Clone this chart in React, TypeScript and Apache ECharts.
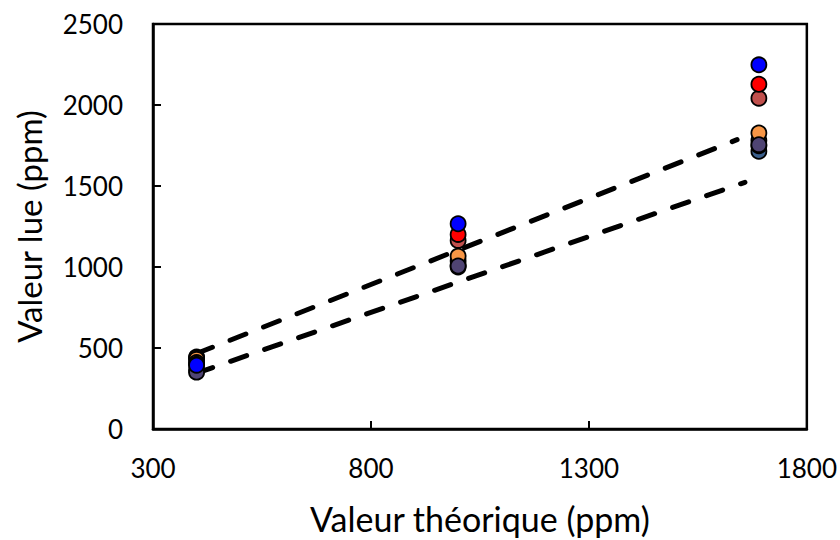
import React, { useEffect, useRef } from "react";
import * as echarts from "echarts";

const theoretical = [400, 1000, 1690];

const seriesNames = ["S1", "S2", "S3", "S4", "S5", "S6", "S7", "S8"];
const seriesColors = ["#3a3a3a", "#3b5f8c", "#6f8a3e", "#f79646", "#4f4473", "#c0504d", "#ff0000", "#0000ff"];
const seriesValues = [
  [445, 1012, 1781],
  [362, 1000, 1714],
  [440, 1037, 1748],
  [430, 1067, 1827],
  [351, 1006, 1755],
  [410, 1164, 2042],
  [400, 1201, 2128],
  [394, 1267, 2248],
];

const upperLineX = [400, 1640];
const upperLineY = [466, 1786];
const lowerLineX = [400, 1658];
const lowerLineY = [345, 1523];

const xTicks = [300, 800, 1300, 1800];
const yTicks = [0, 500, 1000, 1500, 2000, 2500];

const FONT = "Lato";

export default function App() {
  const ref = useRef<HTMLDivElement>(null);
  useEffect(() => {
    if (!ref.current) return;
    const chart = echarts.init(ref.current, null, { renderer: "svg" });
    const dashStyle = {
      color: "#000",
      width: 5,
      type: [17, 19] as any,
      cap: "round" as const,
      opacity: 1,
    };
    const lineSeries = [
      {
        type: "line",
        data: upperLineX.map((x, i) => [x, upperLineY[i]]),
        showSymbol: false,
        symbol: "none",
        lineStyle: dashStyle,
        z: 1,
      },
      {
        type: "line",
        data: lowerLineX.map((x, i) => [x, lowerLineY[i]]),
        showSymbol: false,
        symbol: "none",
        lineStyle: dashStyle,
        z: 1,
      },
    ];
    const scatterSeries = seriesNames.map((name, k) => ({
      name,
      type: "scatter",
      data: theoretical.map((x, i) => [x, seriesValues[k][i]]),
      symbol: "circle",
      symbolSize: 15,
      itemStyle: { color: seriesColors[k], borderColor: "#000", borderWidth: 1.8, opacity: 1 },
      z: 2 + k,
    }));
    const fmt = (v: number) => String(v);
    chart.setOption({
      animation: false,
      grid: { left: 153, right: 33, top: 24, bottom: 110, show: true, borderColor: "#000", borderWidth: 2.5 },
      xAxis: {
        type: "value",
        min: xTicks[0],
        max: xTicks[xTicks.length - 1],
        interval: xTicks[1] - xTicks[0],
        name: "Valeur théorique (ppm)",
        nameLocation: "middle",
        nameGap: 72,
        nameTextStyle: { fontFamily: FONT, fontSize: 34, color: "#000" },
        axisLine: { show: true, onZero: false, lineStyle: { color: "#000", width: 2.5 } },
        axisTick: { show: true, inside: true, length: 8, lineStyle: { color: "#000", width: 2 } },
        axisLabel: { fontFamily: FONT, fontSize: 26, color: "#000", margin: 26, formatter: fmt },
        splitLine: { show: false },
      },
      yAxis: {
        type: "value",
        min: yTicks[0],
        max: yTicks[yTicks.length - 1],
        interval: yTicks[1] - yTicks[0],
        name: "Valeur lue (ppm)",
        nameLocation: "middle",
        nameGap: 108,
        nameTextStyle: { fontFamily: FONT, fontSize: 33, color: "#000" },
        axisLine: { show: true, lineStyle: { color: "#000", width: 2.5 } },
        axisTick: { show: true, inside: true, length: 8, lineStyle: { color: "#000", width: 2 } },
        axisLabel: { fontFamily: FONT, fontSize: 26, color: "#000", margin: 30, formatter: fmt },
        splitLine: { show: false },
      },
      series: [...lineSeries, ...scatterSeries],
    });
    return () => chart.dispose();
  }, []);
  return <div ref={ref} style={{ width: 840, height: 540, position: "absolute", left: 0, top: 0, background: "#fff" }} />;
}
